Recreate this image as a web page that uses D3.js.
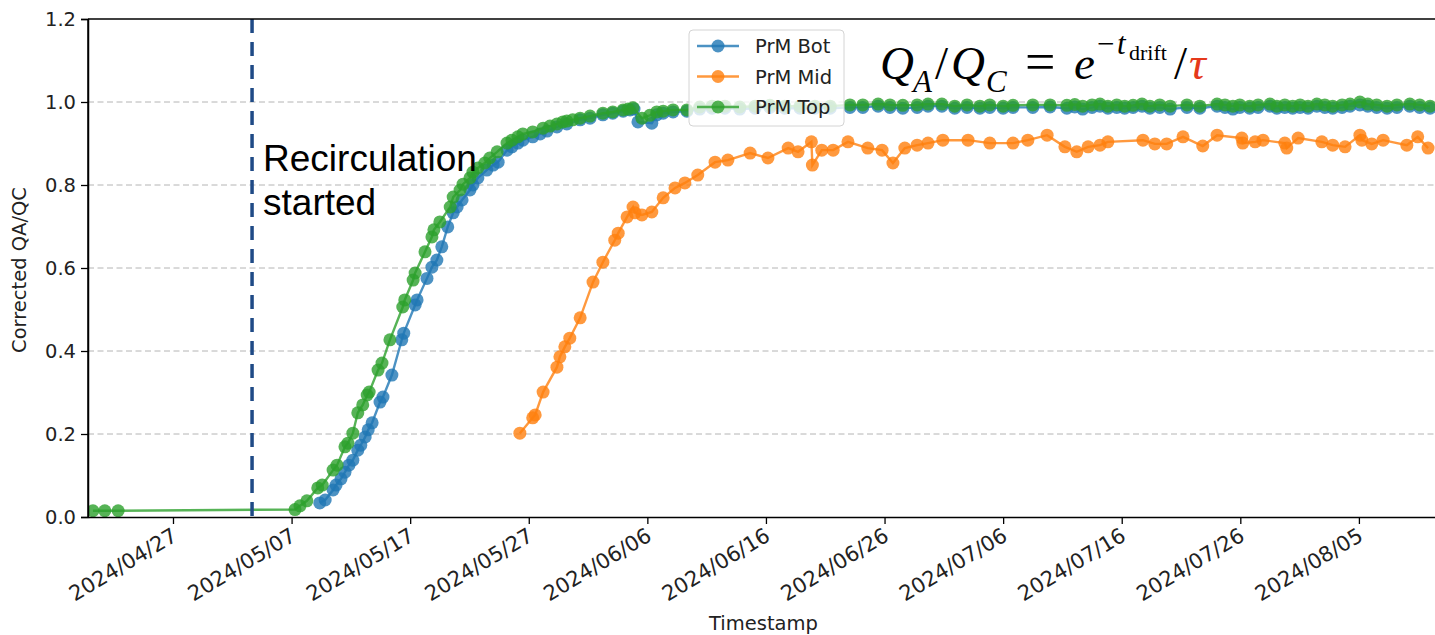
<!DOCTYPE html>
<meta charset="utf-8">
<script src="https://d3js.org/d3.v7.min.js"></script>
<style>
  body { margin: 0; background: #fff; }
  text { font-family: "DejaVu Sans", sans-serif; }
</style>
<div id="my_dataviz"></div>
<script>

// series: [timestamp, corrected QA/QC]
var prmBot = [
  ["2024-05-09T09",0.034],["2024-05-09T20",0.041],["2024-05-10T12",0.065],["2024-05-10T18",0.077],
  ["2024-05-11T04",0.092],["2024-05-11T12",0.108],["2024-05-11T20",0.125],["2024-05-12T04",0.137],
  ["2024-05-12T14",0.161],["2024-05-12T20",0.173],["2024-05-13T05",0.193],["2024-05-13T11",0.210],
  ["2024-05-13T19",0.227],["2024-05-14T11",0.277],["2024-05-14T17",0.289],["2024-05-15T11",0.342],
  ["2024-05-16T07",0.427],["2024-05-16T11",0.443],["2024-05-17T10",0.511],["2024-05-17T14",0.523],
  ["2024-05-18T10",0.575],["2024-05-18T20",0.602],["2024-05-19T06",0.619],["2024-05-19T16",0.651],
  ["2024-05-20T04",0.699],["2024-05-20T15",0.733],["2024-05-20T23",0.747],["2024-05-21T09",0.764],
  ["2024-05-22T01",0.788],["2024-05-22T07",0.800],["2024-05-22T17",0.817],["2024-05-23T11",0.836],
  ["2024-05-24T00",0.848],["2024-05-24T10",0.855],["2024-05-25T04",0.884],["2024-05-25T14",0.892],
  ["2024-05-26T02",0.901],["2024-05-26T12",0.908],["2024-05-27T08",0.916],["2024-05-27T23",0.923],
  ["2024-05-28T13",0.930],["2024-05-29T09",0.940],["2024-05-30T05",0.947],["2024-05-31T08",0.957],
  ["2024-06-01T04",0.961],["2024-06-02T06",0.969],["2024-06-03T02",0.973],["2024-06-03T23",0.978],
  ["2024-06-04T13",0.981],["2024-06-04T21",0.983],["2024-06-05T05",0.952],["2024-06-06T09",0.949],
  ["2024-06-06T19",0.969],["2024-06-07T08",0.973],["2024-06-08T04",0.976],["2024-06-09T08",0.978],
  ["2024-06-10T10",0.983],["2024-06-11T11",0.985],["2024-06-12T13",0.985],["2024-06-13T19",0.983],
  ["2024-06-15T02",0.985],["2024-06-16T08",0.987],["2024-06-17T14",0.985],["2024-06-18T21",0.985],
  ["2024-06-20T03",0.985],["2024-06-21T10",0.985],["2024-06-23T02",0.987],["2024-06-24T04",0.987],
  ["2024-06-25T11",0.99],["2024-06-26T11",0.987],["2024-06-27T13",0.985],["2024-06-28T18",0.987],
  ["2024-06-29T16",0.99],["2024-06-30T20",0.99],["2024-07-01T22",0.985],["2024-07-02T23",0.987],
  ["2024-07-04T01",0.985],["2024-07-04T21",0.987],["2024-07-06T00",0.985],["2024-07-06T20",0.987],
  ["2024-07-08T12",0.987],["2024-07-09T23",0.988],["2024-07-11T09",0.985],["2024-07-12T01",0.988],
  ["2024-07-12T17",0.983],["2024-07-13T12",0.987],["2024-07-14T04",0.99],["2024-07-14T20",0.985],
  ["2024-07-15T14",0.987],["2024-07-16T06",0.985],["2024-07-16T23",0.987],["2024-07-17T17",0.99],
  ["2024-07-18T09",0.985],["2024-07-19T05",0.987],["2024-07-20T02",0.983],["2024-07-21T12",0.987],
  ["2024-07-22T14",0.985],["2024-07-24T01",0.99],["2024-07-24T17",0.987],["2024-07-25T09",0.983],
  ["2024-07-25T23",0.987],["2024-07-26T19",0.985],["2024-07-27T12",0.987],["2024-07-28T12",0.99],
  ["2024-07-29T02",0.985],["2024-07-29T18",0.987],["2024-07-30T10",0.985],["2024-07-31T01",0.987],
  ["2024-07-31T17",0.985],["2024-08-01T11",0.99],["2024-08-02T03",0.987],["2024-08-02T19",0.985],
  ["2024-08-03T14",0.987],["2024-08-04T06",0.99],["2024-08-05T02",0.993],["2024-08-05T18",0.99],
  ["2024-08-06T12",0.987],["2024-08-07T09",0.985],["2024-08-08T05",0.987],["2024-08-09T07",0.99],
  ["2024-08-10T03",0.987],["2024-08-11T00",0.985]
];

var prmMid = [
  ["2024-05-26T06",0.202],["2024-05-27T08",0.239],["2024-05-27T13",0.246],["2024-05-28T05",0.301],
  ["2024-05-29T09",0.361],["2024-05-29T15",0.386],["2024-05-30T01",0.410],["2024-05-30T11",0.431],
  ["2024-05-31T08",0.480],["2024-06-01T10",0.566],["2024-06-02T06",0.614],["2024-06-03T06",0.667],
  ["2024-06-03T13",0.684],["2024-06-04T07",0.723],["2024-06-04T19",0.747],["2024-06-04T23",0.733],
  ["2024-06-05T13",0.728],["2024-06-06T09",0.735],["2024-06-07T08",0.769],["2024-06-08T08",0.793],
  ["2024-06-09T04",0.805],["2024-06-10T06",0.824],["2024-06-11T17",0.855],["2024-06-12T19",0.860],
  ["2024-06-14T16",0.877],["2024-06-16T04",0.865],["2024-06-17T21",0.889],["2024-06-18T17",0.880],
  ["2024-06-19T20",0.904],["2024-06-19T22",0.848],["2024-06-20T17",0.884],["2024-06-21T16",0.884],
  ["2024-06-22T22",0.904],["2024-06-24T14",0.889],["2024-06-25T19",0.884],["2024-06-26T17",0.853],
  ["2024-06-27T17",0.889],["2024-06-28T18",0.896],["2024-06-29T16",0.901],["2024-06-30T22",0.908],
  ["2024-07-03T01",0.908],["2024-07-04T21",0.901],["2024-07-06T20",0.901],["2024-07-08T02",0.908],
  ["2024-07-09T17",0.920],["2024-07-11T05",0.892],["2024-07-12T05",0.880],["2024-07-13T04",0.892],
  ["2024-07-14T04",0.896],["2024-07-14T20",0.904],["2024-07-17T19",0.908],["2024-07-18T19",0.899],
  ["2024-07-19T19",0.899],["2024-07-21T04",0.916],["2024-07-22T20",0.894],["2024-07-24T01",0.920],
  ["2024-07-26T03",0.913],["2024-07-26T05",0.901],["2024-07-27T06",0.904],["2024-07-27T22",0.908],
  ["2024-07-29T18",0.901],["2024-07-29T22",0.889],["2024-07-30T21",0.913],["2024-08-01T21",0.904],
  ["2024-08-02T19",0.896],["2024-08-03T20",0.892],["2024-08-05T02",0.920],["2024-08-05T06",0.908],
  ["2024-08-06T02",0.899],["2024-08-07T01",0.908],["2024-08-09T01",0.896],["2024-08-09T23",0.916],
  ["2024-08-10T20",0.889]
];

var prmTop = [
  ["2024-04-20T06",0.015],["2024-04-21T06",0.015],["2024-04-22T09",0.015],
  ["2024-05-07T07",0.018],["2024-05-07T17",0.027],["2024-05-08T07",0.039],["2024-05-09T05",0.070],
  ["2024-05-09T14",0.077],["2024-05-10T12",0.113],["2024-05-10T20",0.125],["2024-05-11T12",0.169],
  ["2024-05-11T18",0.178],["2024-05-12T04",0.202],["2024-05-12T14",0.251],["2024-05-13T00",0.270],
  ["2024-05-13T09",0.294],["2024-05-13T13",0.301],["2024-05-14T07",0.354],["2024-05-14T15",0.371],
  ["2024-05-15T07",0.427],["2024-05-16T09",0.506],["2024-05-16T13",0.523],["2024-05-17T06",0.571],
  ["2024-05-17T10",0.588],["2024-05-18T06",0.639],["2024-05-18T20",0.675],["2024-05-19T00",0.692],
  ["2024-05-19T12",0.711],["2024-05-20T09",0.747],["2024-05-20T15",0.771],["2024-05-21T05",0.788],
  ["2024-05-21T11",0.802],["2024-05-22T01",0.817],["2024-05-22T07",0.831],["2024-05-22T17",0.841],
  ["2024-05-23T07",0.853],["2024-05-23T17",0.865],["2024-05-24T08",0.880],["2024-05-25T04",0.901],
  ["2024-05-25T14",0.908],["2024-05-26T02",0.916],["2024-05-26T12",0.923],["2024-05-27T08",0.928],
  ["2024-05-28T05",0.937],["2024-05-28T19",0.942],["2024-05-29T09",0.947],["2024-05-29T21",0.952],
  ["2024-05-30T05",0.954],["2024-05-30T17",0.957],["2024-05-31T08",0.961],["2024-06-01T04",0.966],
  ["2024-06-02T06",0.973],["2024-06-03T02",0.976],["2024-06-03T23",0.981],["2024-06-04T09",0.983],
  ["2024-06-04T19",0.986],["2024-06-05T13",0.961],["2024-06-06T05",0.968],["2024-06-06T19",0.976],
  ["2024-06-07T08",0.978],["2024-06-08T04",0.981],["2024-06-09T08",0.981],
  ["2024-06-10T10",0.988],["2024-06-11T11",0.99],["2024-06-12T13",0.99],["2024-06-13T19",0.988],
  ["2024-06-15T02",0.99],["2024-06-16T08",0.992],["2024-06-17T14",0.99],["2024-06-18T21",0.99],
  ["2024-06-20T03",0.99],["2024-06-21T10",0.99],["2024-06-23T02",0.993],["2024-06-24T04",0.993],
  ["2024-06-25T11",0.995],["2024-06-26T11",0.993],["2024-06-27T13",0.992],["2024-06-28T18",0.993],
  ["2024-06-29T16",0.995],["2024-06-30T20",0.995],["2024-07-01T22",0.99],["2024-07-02T23",0.993],
  ["2024-07-04T01",0.99],["2024-07-04T21",0.993],["2024-07-06T00",0.99],["2024-07-06T20",0.992],
  ["2024-07-08T12",0.993],["2024-07-09T23",0.993],["2024-07-11T09",0.992],["2024-07-12T01",0.994],
  ["2024-07-12T17",0.99],["2024-07-13T12",0.993],["2024-07-14T04",0.995],["2024-07-14T20",0.99],
  ["2024-07-15T14",0.993],["2024-07-16T06",0.99],["2024-07-16T23",0.992],["2024-07-17T17",0.995],
  ["2024-07-18T09",0.99],["2024-07-19T05",0.993],["2024-07-20T02",0.99],["2024-07-21T12",0.993],
  ["2024-07-22T14",0.99],["2024-07-24T01",0.995],["2024-07-24T17",0.993],["2024-07-25T09",0.99],
  ["2024-07-25T23",0.993],["2024-07-26T19",0.99],["2024-07-27T12",0.993],["2024-07-28T12",0.995],
  ["2024-07-29T02",0.99],["2024-07-29T18",0.993],["2024-07-30T10",0.99],["2024-07-31T01",0.993],
  ["2024-07-31T17",0.99],["2024-08-01T11",0.995],["2024-08-02T03",0.993],["2024-08-02T19",0.99],
  ["2024-08-03T14",0.993],["2024-08-04T06",0.995],["2024-08-05T02",1.0],["2024-08-05T18",0.995],
  ["2024-08-06T12",0.993],["2024-08-07T09",0.99],["2024-08-08T05",0.993],["2024-08-09T07",0.995],
  ["2024-08-10T03",0.993],["2024-08-11T00",0.99]
];

var seriesNames = ["PrM Bot", "PrM Mid", "PrM Top"];
var seriesColors = ["#1f77b4", "#ff7f0e", "#2ca02c"];
var xTicks = ["2024-04-27","2024-05-07","2024-05-17","2024-05-27","2024-06-06","2024-06-16",
              "2024-06-26","2024-07-06","2024-07-16","2024-07-26","2024-08-05"];
var yTicks = [0.0, 0.2, 0.4, 0.6, 0.8, 1.0, 1.2];
var recircStart = "2024-05-03T16";
var xDomain = ["2024-04-19T20", "2024-08-11T10"];

var parseT = d3.utcParse("%Y-%m-%dT%H");
var parseD = d3.utcParse("%Y-%m-%d");
var fmt = d3.utcFormat("%Y/%m/%d");

// layout
var W = 1435, H = 635;
var margin = {top: 19, right: 0, bottom: 118, left: 88};
var width = W - margin.left - margin.right,
    height = H - margin.top - margin.bottom;

var svg = d3.select("#my_dataviz")
  .append("svg")
    .attr("width", W)
    .attr("height", H)
  .append("g")
    .attr("transform", "translate(" + margin.left + "," + margin.top + ")");

var x = d3.scaleUtc()
  .domain(xDomain.map(parseT))
  .range([0, width]);
var y = d3.scaleLinear()
  .domain([0, 1.2])
  .range([height, 0]);

svg.append("clipPath").attr("id", "clip")
  .append("rect").attr("x", 0).attr("y", 0).attr("width", width + 20).attr("height", height);

// grid
svg.append("g")
  .selectAll("line")
  .data(yTicks.filter(function(d) { return d > 0 && d < 1.2; }))
  .enter().append("line")
    .attr("x1", 0).attr("x2", width)
    .attr("y1", function(d) { return y(d); })
    .attr("y2", function(d) { return y(d); })
    .attr("stroke", "#b4b4b4")
    .attr("stroke-width", 1)
    .attr("stroke-dasharray", "6,3.5");

// series
var plot = svg.append("g").attr("clip-path", "url(#clip)");
var line = d3.line()
  .x(function(d) { return x(parseT(d[0])); })
  .y(function(d) { return y(d[1]); });

[prmBot, prmMid, prmTop].forEach(function(data, i) {
  var g = plot.append("g");
  g.append("path")
    .datum(data)
    .attr("d", line)
    .attr("fill", "none")
    .attr("stroke", seriesColors[i])
    .attr("stroke-opacity", 0.8)
    .attr("stroke-width", 2.4);
  g.selectAll("circle")
    .data(data)
    .enter().append("circle")
      .attr("cx", function(d) { return x(parseT(d[0])); })
      .attr("cy", function(d) { return y(d[1]); })
      .attr("r", 6.5)
      .attr("fill", seriesColors[i])
      .attr("fill-opacity", 0.8);
});

// recirculation marker
svg.append("line")
  .attr("x1", x(parseT(recircStart))).attr("x2", x(parseT(recircStart)))
  .attr("y1", 0).attr("y2", height)
  .attr("stroke", "#1f4a86")
  .attr("stroke-width", 3.5)
  .attr("stroke-dasharray", "14,9");

var ann = svg.append("text")
  .attr("x", x(parseT(recircStart)) + 11)
  .attr("y", 152)
  .style("font-family", "'Liberation Sans', Arial, sans-serif")
  .style("font-size", "37px")
  .attr("fill", "#000");
ann.append("tspan").text("Recirculation");
ann.append("tspan").attr("x", x(parseT(recircStart)) + 11).attr("dy", 44).text("started");

// spines
svg.append("line").attr("x1", 0).attr("x2", width).attr("y1", 0).attr("y2", 0)
  .attr("stroke", "#000").attr("stroke-width", 1.5);
svg.append("line").attr("x1", 0).attr("x2", 0).attr("y1", 0).attr("y2", height)
  .attr("stroke", "#000").attr("stroke-width", 1.5);

// X axis
var xAxis = svg.append("g")
  .attr("transform", "translate(0," + height + ")")
  .call(d3.axisBottom(x).tickValues(xTicks.map(parseD)).tickFormat(fmt).tickSize(7).tickSizeOuter(0));
xAxis.select(".domain").attr("stroke-width", 1.5);
xAxis.selectAll(".tick line").attr("stroke-width", 1.3);
xAxis.selectAll("text")
  .style("font-size", "21px")
  .attr("fill", "#222")
  .attr("text-anchor", "end")
  .attr("y", 0).attr("x", 0).attr("dy", "0.75em")
  .attr("transform", "translate(-3,9) rotate(-31)");

// Y axis
var yAxis = svg.append("g")
  .call(d3.axisLeft(y).tickValues(yTicks).tickFormat(d3.format(".1f")).tickSize(7));
yAxis.select(".domain").attr("stroke-width", 1.5);
yAxis.selectAll(".tick line").attr("stroke-width", 1.3);
yAxis.selectAll("text").style("font-size", "19.5px").attr("fill", "#222").attr("x", -12);

// axis labels
svg.append("text")
  .attr("x", width / 2 + 2).attr("y", height + 113)
  .attr("text-anchor", "middle")
  .style("font-size", "19.5px")
  .attr("fill", "#222")
  .text("Timestamp");
svg.append("text")
  .attr("transform", "translate(" + (-62) + "," + (height / 2 + 2) + ") rotate(-90)")
  .attr("text-anchor", "middle")
  .style("font-size", "19.5px")
  .attr("fill", "#222")
  .text("Corrected QA/QC");

// legend
var lg = svg.append("g").attr("transform", "translate(" + (689 - margin.left) + "," + (30 - margin.top) + ")");
lg.append("rect")
  .attr("width", 155).attr("height", 96).attr("rx", 4)
  .attr("fill", "#fff").attr("fill-opacity", 0.8)
  .attr("stroke", "#d4d4d4");
seriesNames.forEach(function(name, i) {
  var yy = 16 + i * 30.5;
  lg.append("line").attr("x1", 8).attr("x2", 50).attr("y1", yy).attr("y2", yy)
    .attr("stroke", seriesColors[i]).attr("stroke-opacity", 0.8).attr("stroke-width", 2.4);
  lg.append("circle").attr("cx", 29).attr("cy", yy).attr("r", 6.5)
    .attr("fill", seriesColors[i]).attr("fill-opacity", 0.8);
  lg.append("text").attr("x", 66).attr("y", yy).attr("dy", "0.36em")
    .style("font-size", "19.5px").attr("fill", "#222").text(name);
});

// formula
var fg = svg.append("g").attr("transform", "translate(" + (-margin.left) + "," + (-margin.top) + ")");
var parts = [
  {t: "Q", x: 880, y: 79, s: 47, i: true},
  {t: "A", x: 913, y: 92, s: 31, i: true},
  {t: "/", x: 935, y: 79, s: 47},
  {t: "Q", x: 951, y: 79, s: 47, i: true},
  {t: "C", x: 986, y: 92, s: 31, i: true},
  {t: "=", x: 1025, y: 80, s: 54},
  {t: "e", x: 1074, y: 79, s: 47, i: true},
  {t: "\u2212", x: 1097, y: 54, s: 31},
  {t: "t", x: 1117, y: 54, s: 31, i: true},
  {t: "drift", x: 1129, y: 60, s: 22},
  {t: "/", x: 1174, y: 79, s: 47},
  {t: "\u03c4", x: 1189, y: 79, s: 47, i: true, c: "#e5391b"}
];
fg.selectAll("text").data(parts).enter().append("text")
  .attr("x", function(d) { return d.x; })
  .attr("y", function(d) { return d.y; })
  .style("font-family", "'Liberation Serif', 'Times New Roman', serif")
  .style("font-size", function(d) { return d.s + "px"; })
  .style("font-style", function(d) { return d.i ? "italic" : "normal"; })
  .attr("fill", function(d) { return d.c || "#000"; })
  .text(function(d) { return d.t; });

</script>
